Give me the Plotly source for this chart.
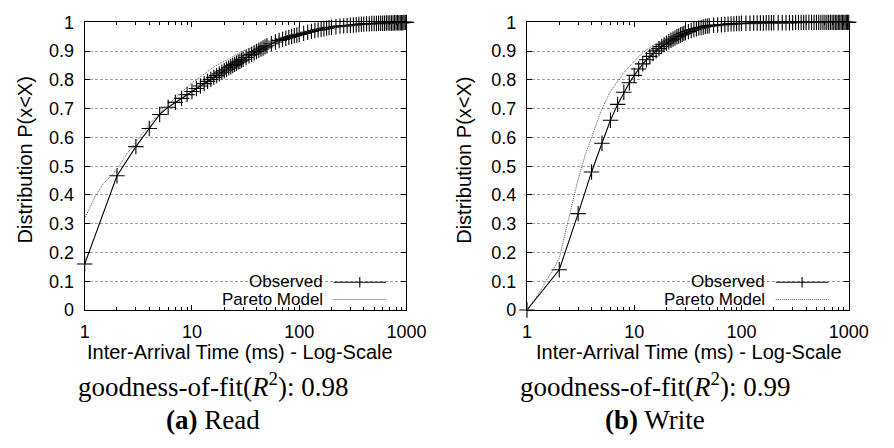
import plotly.graph_objects as go

# ---------------- data ----------------
read_obs_x = [1, 2, 3, 4, 5, 6, 7, 8, 9, 10, 11, 12, 13, 14, 15, 16, 17, 18, 19, 20,
              21, 22, 23, 24, 25, 26, 27, 28, 29, 30,
              32, 34, 36, 38, 40, 42, 44, 46, 48, 50,
              55, 60, 65, 70, 75, 80, 85, 90, 95, 100,
              110, 120, 130, 140, 150, 160, 170, 180, 190, 200,
              220, 240, 260, 280, 300, 320, 340, 360, 380, 400,
              425, 450, 475, 500, 525, 550, 575, 600, 625, 650, 675, 700,
              725, 750, 775, 800, 825, 850, 875, 900, 925, 950, 975, 1000]
read_obs_y = [0.160, 0.467, 0.568, 0.631, 0.680, 0.705, 0.722, 0.736, 0.749, 0.760,
              0.770, 0.779, 0.787, 0.795, 0.802, 0.809, 0.815, 0.821, 0.827, 0.832,
              0.837, 0.842, 0.846, 0.850, 0.854, 0.858, 0.862, 0.865, 0.869, 0.872,
              0.878, 0.884, 0.889, 0.894, 0.899, 0.903, 0.907, 0.911, 0.915, 0.919,
              0.926, 0.932, 0.937, 0.941, 0.945, 0.948, 0.951, 0.954, 0.956, 0.958,
              0.962, 0.966, 0.969, 0.972, 0.974, 0.976, 0.978, 0.980, 0.982, 0.983,
              0.985, 0.987, 0.988, 0.989, 0.990, 0.991, 0.992, 0.993, 0.994, 0.994,
              0.995, 0.995, 0.996, 0.996, 0.996, 0.997, 0.997, 0.997, 0.997, 0.998, 0.998, 0.998,
              0.998, 0.998, 0.999, 0.999, 0.999, 0.999, 0.999, 0.999, 0.999, 1.000, 1.000, 1.000]

read_model_x = [1, 1.25, 1.5, 2, 2.5, 3, 4, 5, 6, 7, 8, 10, 13, 16, 20, 25, 30, 40, 50,
                70, 100, 150, 200, 300, 500, 700, 1000]
read_model_y = [0.318, 0.395, 0.440, 0.489, 0.545, 0.585, 0.645, 0.685, 0.715, 0.738, 0.758,
                0.790, 0.820, 0.845, 0.865, 0.885, 0.900, 0.920, 0.935, 0.950, 0.965, 0.976,
                0.982, 0.988, 0.993, 0.995, 0.997]

write_obs_x = read_obs_x
write_obs_y = [0.000, 0.140, 0.335, 0.480, 0.580, 0.660, 0.715, 0.757, 0.790, 0.816,
               0.838, 0.856, 0.870, 0.882, 0.892, 0.901, 0.909, 0.916, 0.922, 0.928,
               0.933, 0.938, 0.942, 0.946, 0.950, 0.953, 0.956, 0.959, 0.962, 0.964,
               0.968, 0.972, 0.975, 0.978, 0.980, 0.982, 0.984, 0.986, 0.987, 0.988,
               0.990, 0.991, 0.992, 0.993, 0.994, 0.995, 0.995, 0.996, 0.996, 0.997,
               0.997, 0.997, 0.998, 0.998, 0.998, 0.998, 0.999, 0.999, 0.999, 0.999,
               0.999, 0.999, 0.999, 0.999, 0.999, 1.000, 1.000, 1.000, 1.000, 1.000,
               1.000, 1.000, 1.000, 1.000, 1.000, 1.000, 1.000, 1.000, 1.000, 1.000, 1.000, 1.000,
               1.000, 1.000, 1.000, 1.000, 1.000, 1.000, 1.000, 1.000, 1.000, 1.000, 1.000, 1.000]

write_model_x = [1, 1.25, 1.5, 1.75, 2, 2.25, 2.5, 2.75, 3, 3.5, 4, 4.5, 5, 6, 7, 8, 10,
                 12, 15, 20, 30, 50, 100, 200, 500, 1000]
write_model_y = [0.000, 0.050, 0.100, 0.140, 0.180, 0.260, 0.330, 0.400, 0.455, 0.540, 0.600,
                 0.655, 0.700, 0.760, 0.795, 0.825, 0.865, 0.895, 0.920, 0.945, 0.968, 0.983,
                 0.993, 0.997, 0.999, 1.000]

x_tick_vals = [1, 10, 100, 1000]
x_tick_text = ["1", "10", "100", "1000"]
x_minor_vals = [2, 3, 4, 5, 6, 7, 8, 9, 20, 30, 40, 50, 60, 70, 80, 90,
                200, 300, 400, 500, 600, 700, 800, 900]
x_title = "Inter-Arrival Time (ms) - Log-Scale"
y_title = "Distribution P(x<X)"
legend_names = ["Observed", "Pareto Model"]
fit_texts = ["goodness-of-fit(<i>R</i><sup>2</sup>): 0.98",
             "goodness-of-fit(<i>R</i><sup>2</sup>): 0.99"]
captions = ["<b>(a)</b> Read", "<b>(b)</b> Write"]

# ---------------- layout helpers ----------------
W, H = 894, 448
SANS = "Liberation Sans, Arial, Helvetica, sans-serif"
SERIF = "Liberation Serif, Times New Roman, serif"


def px(x):
    return x / W


def py(y):
    return 1 - y / H


panels = [
    dict(x0=82, x1=413, xa="x", ya="y", obs=(read_obs_x, read_obs_y),
         mod=(read_model_x, read_model_y), fit=fit_texts[0], cap=captions[0],
         ytx=21, xtx=242, capx=214),
    dict(x0=537, x1=868, xa="x2", ya="y2", obs=(write_obs_x, write_obs_y),
         mod=(write_model_x, write_model_y), fit=fit_texts[1], cap=captions[1],
         ytx=472, xtx=704, capx=669),
]
Y0, Y1 = 13, 314

fig = go.Figure()
annotations = []
shapes = []

for i, p in enumerate(panels):
    fig.add_trace(go.Scatter(
        x=p["obs"][0], y=p["obs"][1], xaxis=p["xa"], yaxis=p["ya"],
        mode="lines+markers", showlegend=False, cliponaxis=False,
        line=dict(color="black", width=1.1),
        marker=dict(symbol="cross-thin", size=11, line=dict(color="black", width=1.1)),
        name=legend_names[0]))
    fig.add_trace(go.Scatter(
        x=p["mod"][0], y=p["mod"][1], xaxis=p["xa"], yaxis=p["ya"],
        mode="lines", showlegend=False,
        line=dict(color="#555555", width=1, dash="1px,1px"),
        name=legend_names[1]))

    axis_common = dict(
        showline=True, linecolor="black", linewidth=1, mirror="allticks",
        ticks="inside", ticklen=5, tickcolor="black", tickwidth=1,
        tickfont=dict(family=SANS, size=18, color="black"),
    )
    xa_key = "xaxis" if i == 0 else "xaxis2"
    ya_key = "yaxis" if i == 0 else "yaxis2"
    fig.update_layout(**{
        xa_key: dict(
            domain=[px(p["x0"]), px(p["x1"])], type="log", range=[0, 3],
            anchor=p["ya"], tickmode="array", tickvals=x_tick_vals, ticktext=x_tick_text,
            showgrid=False, zeroline=False, ticklabelstandoff=5,
            minor=dict(tickmode="array", tickvals=x_minor_vals, ticks="inside",
                       ticklen=3, tickcolor="black", showgrid=False),
            **axis_common),
        ya_key: dict(
            domain=[py(Y1), py(Y0)], range=[0, 1], dtick=0.1, tick0=0,
            anchor=p["xa"], showgrid=True, gridcolor="#a0a0a0", gridwidth=1,
            griddash="3px,2px", zeroline=False, ticklabelstandoff=6,
            **axis_common),
    })

    # axis titles
    annotations.append(dict(text=y_title, x=px(p["ytx"]), y=py(157), xref="paper", yref="paper",
                            textangle=-90, showarrow=False, xanchor="center", yanchor="middle",
                            font=dict(family=SANS, size=20, color="black")))
    annotations.append(dict(text=x_title, x=px(p["xtx"]), y=py(358), xref="paper", yref="paper",
                            showarrow=False, xanchor="center", yanchor="middle",
                            font=dict(family=SANS, size=20, color="black")))
    annotations.append(dict(text=p["fit"], x=px(p["capx"]), y=py(393), xref="paper", yref="paper",
                            showarrow=False, xanchor="center", yanchor="middle", borderpad=0,
                            font=dict(family=SERIF, size=27, color="black")))
    annotations.append(dict(text=p["cap"], x=px(p["capx"]), y=py(429), xref="paper", yref="paper",
                            showarrow=False, xanchor="center", yanchor="middle", borderpad=0,
                            font=dict(family=SERIF, size=27, color="black")))

    # legend (gnuplot style: text left, sample right)
    off = p["x0"] - 82
    shapes.append(dict(type="rect", xref="paper", yref="paper", layer="between",
                       x0=px(198 + off), x1=px(402 + off), y0=py(293), y1=py(278),
                       fillcolor="white", line=dict(width=0)))
    annotations.append(dict(text=legend_names[0], x=px(328 + off), y=py(284.5), xref="paper",
                            yref="paper", showarrow=False, xanchor="right", yanchor="middle",
                            borderpad=0,
                            font=dict(family=SANS, size=17, color="black")))
    annotations.append(dict(text=legend_names[1], x=px(328 + off), y=py(303.5), xref="paper",
                            yref="paper", showarrow=False, xanchor="right", yanchor="middle",
                            borderpad=0,
                            font=dict(family=SANS, size=17, color="black")))
    shapes.append(dict(type="line", xref="paper", yref="paper",
                       x0=px(338 + off), x1=px(392 + off), y0=py(285), y1=py(285),
                       line=dict(color="black", width=1.1)))
    shapes.append(dict(type="line", xref="paper", yref="paper",
                       x0=px(365 + off), x1=px(365 + off), y0=py(279.5), y1=py(290.5),
                       line=dict(color="black", width=1.1)))
    shapes.append(dict(type="line", xref="paper", yref="paper",
                       x0=px(338 + off), x1=px(392 + off), y0=py(303), y1=py(303),
                       line=dict(color="#555555", width=1, dash="1px,1px")))

fig.update_layout(
    width=W, height=H, margin=dict(l=0, r=0, t=0, b=0),
    paper_bgcolor="white", plot_bgcolor="white",
    annotations=annotations, shapes=shapes, showlegend=False,
)

fig.write_html("out.html")
